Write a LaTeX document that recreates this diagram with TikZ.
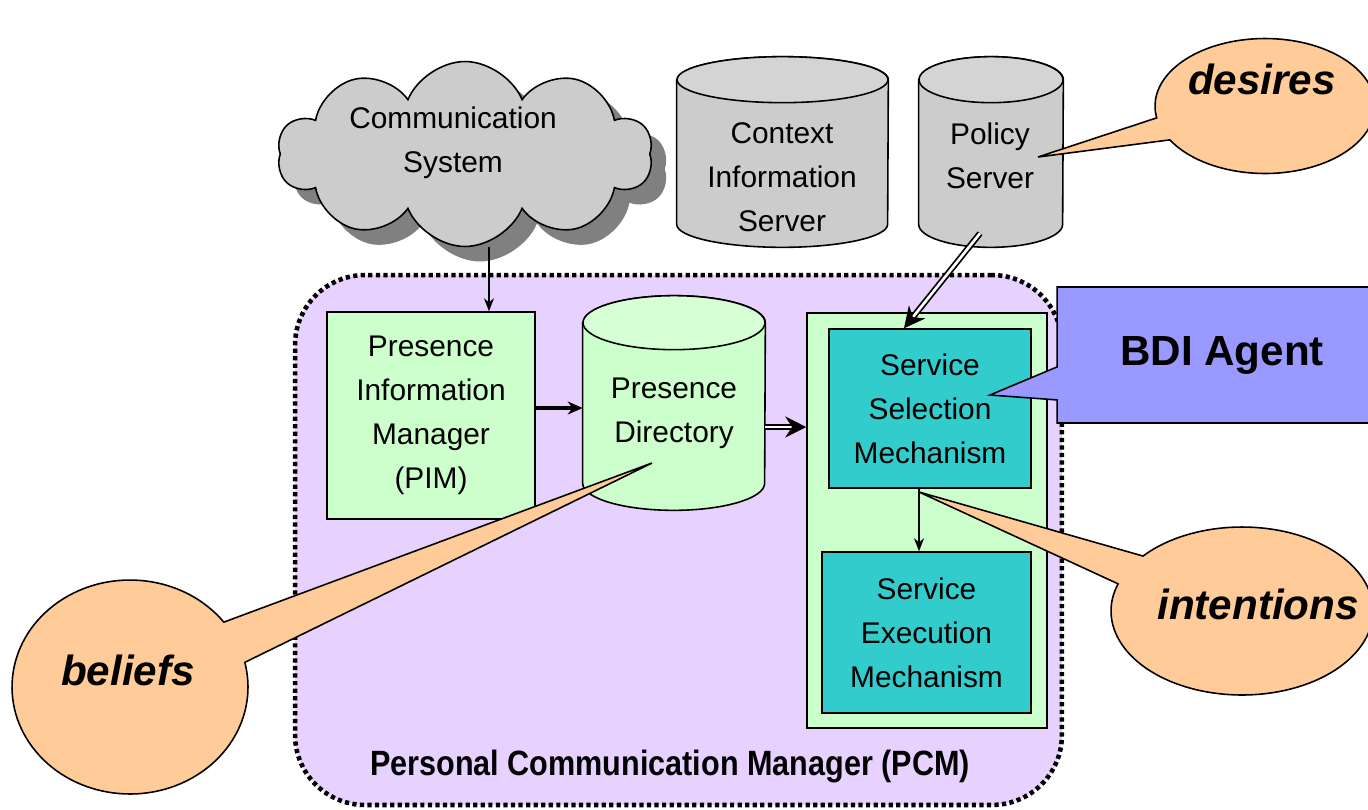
\documentclass[tikz,border=0pt]{standalone}
\usepackage{graphicx}
\usepackage{fontspec}
\setmainfont{Liberation Sans}
\usetikzlibrary{shapes.symbols,shapes.callouts,shadows,arrows.meta}

\definecolor{pcmviolet}{RGB}{230,209,255}
\definecolor{mintgreen}{RGB}{204,255,204}
\definecolor{mechteal}{RGB}{51,204,204}
\definecolor{agentblue}{RGB}{153,153,255}
\definecolor{peach}{RGB}{255,204,153}
\definecolor{servergray}{RGB}{204,204,204}
\definecolor{shadowgray}{RGB}{128,128,128}

\newcommand{\bodyfont}{\fontsize{17}{25}\selectfont}
\newcommand{\thoughtfont}{\fontsize{24}{28}\selectfont\bfseries\itshape}
\newcommand{\agentfont}{\fontsize{24}{28}\selectfont\bfseries}
\newcommand{\pcmfont}{\fontsize{20}{24}\selectfont\bfseries}

\begin{document}
\begin{tikzpicture}[x=0.02cm,y=-0.02cm,
    box/.style={draw,line width=0.9pt,fill=mintgreen,align=center,font=\bodyfont,inner sep=0pt},
    mech/.style={box,fill=mechteal},
    cylbody/.style={inner sep=0pt},
    cyl/.style={draw,line width=0.9pt,fill=servergray},
    txt/.style={align=center,font=\bodyfont,inner sep=0pt},
    thought/.style={ellipse callout,draw,line width=0.9pt,fill=peach,inner sep=0pt},
    thoughttxt/.style={font=\thoughtfont,inner sep=0pt},
    flow/.style={line width=0.8pt,-{Stealth[length=0.26cm,width=0.2cm]}},
    thick flow/.style={line width=2.2pt,-{Stealth[length=0.3cm,width=0.26cm]}},
    double flow/.style={double,double distance=1.5pt,line width=1pt,-{Stealth[length=0.42cm,width=0.42cm]}}]
    \useasboundingbox (0,0) rectangle (1368,809);
    \clip (0,0) rectangle (1368,809);
    %	\draw [lightgray,ultra thin] (0,0) grid[step=50] (1368,809);
    % % ----- PCM ----- % %
    \node [draw,fill=pcmviolet,rounded corners=1.4cm,line width=2.6pt,dash pattern=on 2.4pt off 1.9pt,
           minimum width=15.34cm,minimum height=10.6cm,inner sep=0pt] (pcm) at (678.5,540) {};
    \node [inner sep=0pt] (pcmlabel) at (670,766) {\pcmfont\scalebox{0.87}[1]{Personal Communication Manager (PCM)}};
    % % ----- outside ----- % %
    \node [cloud,cloud puffs=10,cloud puff arc=135,aspect=2,draw,line width=0.9pt,fill=servergray,
           minimum width=7.5cm,minimum height=3.7cm,
           drop shadow={shadow xshift=0.3cm,shadow yshift=-0.3cm,opacity=1,fill=shadowgray}] (cs) at (465,154) {};
    \node [txt] (cstext) at (453,143) {Communication\\System};   % cloud
    \node [cylbody,minimum width=4.22cm,minimum height=2.88cm] (cis) at (782.5,152) {};
    \draw [cyl] (cis.north west) -- (cis.south west) arc[start angle=180,end angle=360,x radius=2.11cm,y radius=0.46cm]
                -- (cis.north east) arc[start angle=0,end angle=180,x radius=2.11cm,y radius=0.46cm] -- cycle;
    \draw [cyl,fill=servergray!85!white] (cis.north) ellipse[x radius=2.11cm,y radius=0.46cm];
    \node [txt] (cistext) at (782,177) {Context\\Information\\Server};
    \node [cylbody,minimum width=2.88cm,minimum height=2.88cm] (ps) at (991,152) {};
    \draw [cyl] (ps.north west) -- (ps.south west) arc[start angle=180,end angle=360,x radius=1.44cm,y radius=0.46cm]
                -- (ps.north east) arc[start angle=0,end angle=180,x radius=1.44cm,y radius=0.46cm] -- cycle;
    \draw [cyl,fill=servergray!85!white] (ps.north) ellipse[x radius=1.44cm,y radius=0.46cm];
    \node [txt] (pstext) at (990,156) {Policy\\Server};
    % % ----- inside ----- % %
    \node [box,minimum width=4.16cm,minimum height=4.14cm] (pim) at (431,415.5) {Presence\\Information\\Manager\\(PIM)};
    \node [cylbody,minimum width=3.64cm,minimum height=3.2cm] (pd) at (674,403) {};
    \draw [cyl,fill=mintgreen] (pd.north west) -- (pd.south west) arc[start angle=180,end angle=360,x radius=1.82cm,y radius=0.54cm]
                -- (pd.north east) arc[start angle=0,end angle=180,x radius=1.82cm,y radius=0.54cm] -- cycle;
    \draw [cyl,fill=mintgreen!80!white] (pd.north) ellipse[x radius=1.82cm,y radius=0.54cm];
    \node [txt] (pdtext) at (674,413) {Presence\\Directory};
    \node [box,minimum width=4.8cm,minimum height=8.3cm] (svc) at (927,520.5) {};
    \node [mech,minimum width=4.04cm,minimum height=3.18cm] (ssm) at (930,408.5) {Service\\Selection\\Mechanism};
    \node [mech,minimum width=4.18cm,minimum height=3.22cm] (sem) at (926.5,632.5) {Service\\Execution\\Mechanism};
    % % ----- arrows ----- % %
    \draw [flow] ([xshift=1.16cm]pim.north |- cs.south) -- ([xshift=1.16cm]pim.north);            % cloud-PIM
    \draw [thick flow] ([yshift=0.15cm]pim.east) -- ([yshift=0.15cm]pim.east -| pd.west);         % PIM-PD
    \draw [double flow] ([yshift=-0.48cm]pd.east) -- ([yshift=-0.48cm]pd.east -| svc.west);       % PD-services
    \draw [double flow] ([xshift=-0.22cm,yshift=-0.18cm]ps.south) -- ([xshift=-0.52cm]ssm.north); % policy-SSM
    \draw [flow] ([xshift=-0.22cm]ssm.south) -- ([xshift=-0.22cm]ssm.south |- sem.north);        % SSM-SEM
    % % ----- callouts ----- % %
    \coordinate (desirestip) at (1038,157);
    \coordinate (intentionstip) at (919,492);
    \coordinate (beliefstip) at (652,463);
    \coordinate (agenttip) at (990,395);
    \node [thought,minimum width=4.4cm,minimum height=2.7cm,callout absolute pointer={(desirestip)},callout pointer arc=20] (desires) at (1265,106) {};
    \node [thoughttxt] (desirestext) at (1262,79) {desires};
    \node [thought,minimum width=5.24cm,minimum height=3.36cm,callout absolute pointer={(intentionstip)},callout pointer arc=22] (intentions) at (1242,611) {};
    \node [thoughttxt] (intentionstext) at (1258,604) {intentions};
    \node [thought,minimum width=4.72cm,minimum height=4.28cm,callout absolute pointer={(beliefstip)},callout pointer arc=24] (beliefs) at (130,687) {};
    \node [thoughttxt] (beliefstext) at (128,670) {beliefs};
    \node [rectangle callout,draw,line width=0.9pt,fill=agentblue,font=\agentfont,inner sep=0pt,
           minimum width=6.6cm,minimum height=2.72cm,callout absolute pointer={(agenttip)},callout pointer width=0.66cm] (agent) at (1222,355) {BDI Agent};
\end{tikzpicture}
\end{document}
